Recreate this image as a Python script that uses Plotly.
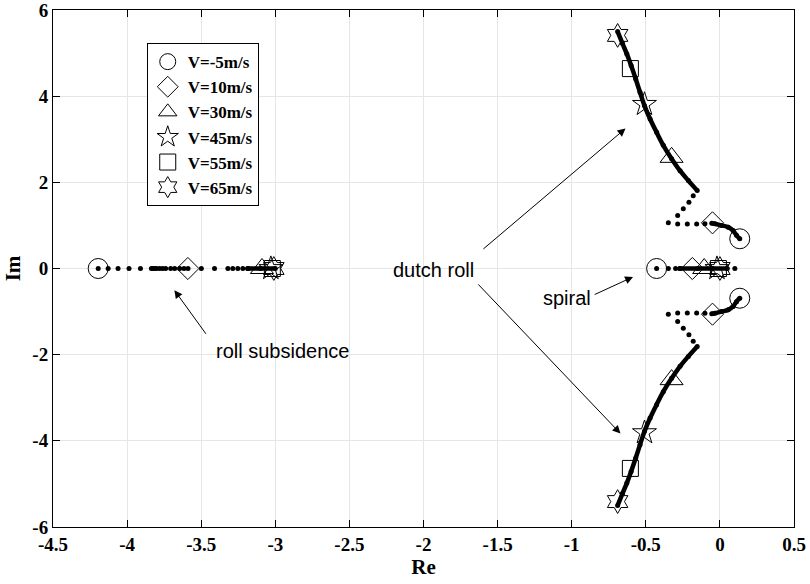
import plotly.graph_objects as go

# ---------------- data ----------------
speed_labels = ["V=-5m/s", "V=10m/s", "V=30m/s", "V=45m/s", "V=55m/s", "V=65m/s"]
marker_symbols = ["circle-open", "diamond-open", "triangle-up-open", "star-open", "square-open", "hexagram-open"]

# pole positions at the six speeds
roll_re = [-4.195, -3.59, -3.09, -3.03, -3.02, -3.01]
spiral_re = [-0.427, -0.186, -0.106, -0.02, -0.01, 0.0]
dutch_re = [0.134, -0.05, -0.326, -0.509, -0.604, -0.69]
dutch_im = [0.69, 1.06, 2.58, 3.81, 4.64, 5.41]

# sparse locus dots
roll_dots_re = [-4.195, -4.128, -4.061, -3.987, -3.910, -3.836, -3.825, -3.814, -3.80,
                -3.78, -3.76, -3.740, -3.706, -3.679, -3.645, -3.616, -3.589, -3.499,
                -3.410, -3.320, -3.287, -3.253, -3.219, -3.186]
spiral_dots_re = [-0.427, -0.348, -0.299, -0.27, 0.101]
dr_dots_re = [-0.101, -0.157, -0.22, -0.285, -0.348, -0.285, -0.247, -0.209, -0.18]
dr_dots_im = [1.04, 1.03, 1.03, 1.03, 1.06, 1.23, 1.386, 1.54, 1.69]

# dense locus segments (dots so close they form a thick line)
roll_dense_re = [-3.186, -3.10, -3.00]
spiral_dense_re = [-0.27, -0.15, -0.05, 0.05]
dr_dense1_re = [0.134, 0.112, 0.089, 0.056, 0.011, -0.034, -0.055]
dr_dense1_im = [0.69, 0.77, 0.88, 0.96, 1.00, 1.04, 1.05]
dr_dense2_re = [-0.153, -0.213, -0.269, -0.326, -0.382, -0.427, -0.471, -0.509,
                -0.539, -0.568, -0.599, -0.628, -0.657, -0.69]
dr_dense2_im = [1.81, 2.04, 2.27, 2.55, 2.86, 3.16, 3.47, 3.78, 4.09, 4.40, 4.71,
                4.98, 5.22, 5.50]

x_tickvals = [-4.5, -4, -3.5, -3, -2.5, -2, -1.5, -1, -0.5, 0, 0.5]
x_ticktext = ["-4.5", "-4", "-3.5", "-3", "-2.5", "-2", "-1.5", "-1", "-0.5", "0", "0.5"]
y_tickvals = [-6, -4, -2, 0, 2, 4, 6]
y_ticktext = ["-6", "-4", "-2", "0", "2", "4", "6"]

marker_sizes = [20, 17, 20, 18, 16, 18]

fig = go.Figure()

DOT = dict(color="black", size=5)

def neg(v):
    return [-a for a in v]

# sparse dots
fig.add_trace(go.Scatter(x=roll_dots_re, y=[0] * len(roll_dots_re), mode="markers",
                         marker=DOT, showlegend=False, hoverinfo="skip"))
fig.add_trace(go.Scatter(x=spiral_dots_re, y=[0] * len(spiral_dots_re), mode="markers",
                         marker=DOT, showlegend=False, hoverinfo="skip"))
for sgn in (1, -1):
    fig.add_trace(go.Scatter(x=dr_dots_re, y=[sgn * v for v in dr_dots_im], mode="markers",
                             marker=DOT, showlegend=False, hoverinfo="skip"))

# dense segments
dense = [
    (roll_dense_re, [0] * len(roll_dense_re)),
    (spiral_dense_re, [0] * len(spiral_dense_re)),
    (dr_dense1_re, dr_dense1_im), (dr_dense1_re, neg(dr_dense1_im)),
    (dr_dense2_re, dr_dense2_im), (dr_dense2_re, neg(dr_dense2_im)),
]
for xs, ys in dense:
    fig.add_trace(go.Scatter(x=xs, y=ys, mode="lines+markers",
                             line=dict(color="black", width=4.5, shape="spline"),
                             marker=DOT, showlegend=False, hoverinfo="skip"))

# speed markers
for i, lab in enumerate(speed_labels):
    xs = [roll_re[i], spiral_re[i], dutch_re[i], dutch_re[i]]
    ys = [0, 0, dutch_im[i], -dutch_im[i]]
    fig.add_trace(go.Scatter(x=xs, y=ys, mode="markers", name=lab,
                             marker=dict(symbol=marker_symbols[i], size=marker_sizes[i],
                                         color="black", line=dict(color="black", width=1)),
                             showlegend=True))

ann_font = dict(family="Liberation Sans", size=20, color="black")
annotations = [
    dict(x=-1.931, y=-0.04, text="dutch roll", showarrow=False, font=ann_font),
    dict(x=-1.034, y=-0.673, text="spiral", showarrow=False, font=ann_font),
    dict(x=-2.952, y=-1.92, text="roll subsidence", showarrow=False, font=ann_font),
]
arrows = [
    (-1.606, 0.425, -0.637, 3.25),
    (-1.640, -0.334, -0.671, -3.83),
    (-0.855, -0.62, -0.586, -0.195),
    (-3.461, -1.55, -3.681, -0.504),
]
for x0, y0, x1, y1 in arrows:
    annotations.append(dict(x=x1, y=y1, ax=x0, ay=y0, xref="x", yref="y", axref="x", ayref="y",
                            text="", showarrow=True, arrowhead=2, arrowsize=1.6,
                            arrowwidth=1, arrowcolor="black", standoff=0))

tick_font = dict(family="Liberation Serif", size=19, color="black", weight=700)
title_font = dict(family="Liberation Serif", size=21, color="black", weight=700)
axis_common = dict(showline=True, linecolor="black", linewidth=1, mirror="ticks",
                   ticks="inside", ticklen=7, tickcolor="black", tickwidth=1,
                   showgrid=True, gridcolor="#e6e6e6", gridwidth=1, zeroline=False,
                   automargin=False, tickfont=tick_font, ticklabeloverflow="allow")

def bold(lst):
    return ["<b>%s</b>" % t for t in lst]

fig.update_layout(
    width=810, height=584,
    margin=dict(l=53, r=16, t=10, b=57, autoexpand=False),
    paper_bgcolor="white", plot_bgcolor="white",
    xaxis=dict(range=[-4.5, 0.5], tickvals=x_tickvals, ticktext=bold(x_ticktext),
               title=dict(text="Re", standoff=4, font=title_font),
               **axis_common),
    yaxis=dict(range=[-6, 6], tickvals=y_tickvals, ticktext=bold(y_ticktext),
               title=dict(text="Im", standoff=6, font=title_font),
               **axis_common),
    legend=dict(x=0.1265, y=0.936, xanchor="left", yanchor="top",
                bordercolor="black", borderwidth=1, bgcolor="white",
                font=dict(family="Liberation Serif", size=17, color="black", weight=700),
                itemsizing="trace", entrywidth=78, entrywidthmode="pixels"),
    annotations=annotations,
    showlegend=True,
)

fig.write_html("out.html", config={"displayModeBar": False},
               post_script="document.body.style.margin='0px';document.body.style.padding='0px';")
